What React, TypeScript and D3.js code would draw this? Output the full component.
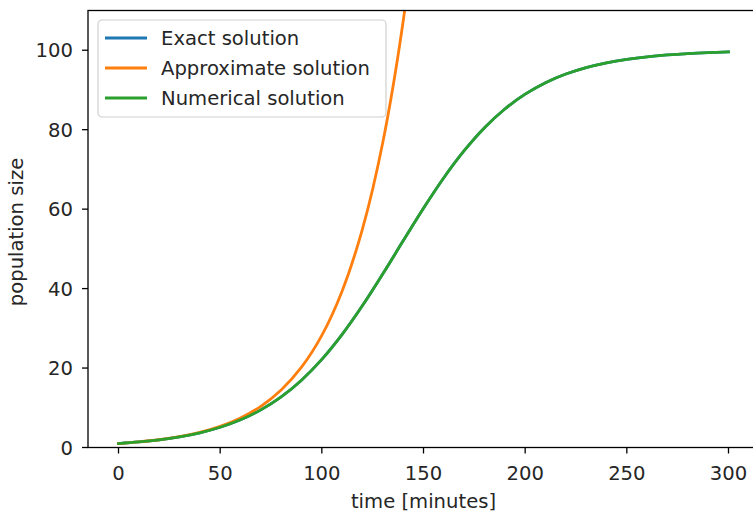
import React, { useMemo } from 'react';
import * as d3 from 'd3';

// time points (minutes)
const times = [0, 10, 20, 30, 40, 50, 60, 70, 80, 90, 100, 110, 120, 130, 140, 150,
  160, 170, 180, 190, 200, 210, 220, 230, 240, 250, 260, 270, 280, 290, 300];

// exact and numerical overlap
const exactValues = [1.0, 1.39, 1.93, 2.68, 3.7, 5.09, 6.97, 9.47, 12.75, 16.95, 22.18, 28.48, 35.73, 43.71, 52.02, 60.23,
  67.9, 74.7, 80.49, 85.21, 88.94, 91.83, 94.01, 95.64, 96.84, 97.71, 98.35, 98.81, 99.15, 99.39, 99.56];
const numericalValues = [1.0, 1.39, 1.93, 2.68, 3.7, 5.09, 6.97, 9.47, 12.75, 16.95, 22.18, 28.48, 35.73, 43.71, 52.02, 60.23,
  67.9, 74.7, 80.49, 85.21, 88.94, 91.83, 94.01, 95.64, 96.84, 97.71, 98.35, 98.81, 99.15, 99.39, 99.56];
// approximate solution leaves the axes around t=141
const approxTimes = [0, 10, 20, 30, 40, 50, 60, 70, 80, 90, 100, 110, 120, 130, 140, 150];
const approxValues = [1.0, 1.4, 1.95, 2.72, 3.8, 5.31, 7.42, 10.36, 14.47, 20.21, 28.22, 39.41, 55.04, 76.86, 107.3, 149.9];

const xTicks = [0, 50, 100, 150, 200, 250, 300];
const yTicks = [0, 20, 40, 60, 80, 100];

const series = [
  { name: 'Exact solution', color: '#1f77b4' },
  { name: 'Approximate solution', color: '#ff7f0e' },
  { name: 'Numerical solution', color: '#2ca02c' },
];

const W = 753;
const H = 516;
const font = '"DejaVu Sans", sans-serif';
const fs = 19.6;
const textColor = '#262626';

const App = () => {
  const left = 88;
  const top = 10.5;
  const right = 759;
  const bottom = 447.5;

  const { x, y, exactPath, approxPath, numPath } = useMemo(() => {
    const x = d3.scaleLinear().domain([-15, 315]).range([left, right]);
    const y = d3.scaleLinear().domain([0, 110]).range([bottom, top]);
    const line = d3.line<[number, number]>()
      .x(d => x(d[0]))
      .y(d => y(d[1]))
      .curve(d3.curveCatmullRom);
    return {
      x,
      y,
      exactPath: line(times.map((t, i) => [t, exactValues[i]])),
      approxPath: line(approxTimes.map((t, i) => [t, approxValues[i]])),
      numPath: line(times.map((t, i) => [t, numericalValues[i]])),
    };
  }, []);

  return (
    <svg
      width={W}
      height={H}
      style={{ position: 'absolute', left: 0, top: 0, background: '#fff', fontFamily: font }}
    >
      <defs>
        <clipPath id="plot">
          <rect x={left} y={top} width={right - left} height={bottom - top} />
        </clipPath>
      </defs>

      {/* lines */}
      <g clipPath="url(#plot)" fill="none" strokeWidth={2.8} strokeLinejoin="round" strokeLinecap="square">
        <path d={exactPath ?? ''} stroke={series[0].color} />
        <path d={approxPath ?? ''} stroke={series[1].color} />
        <path d={numPath ?? ''} stroke={series[2].color} />
      </g>

      {/* spines */}
      <rect x={left} y={top} width={right - left} height={bottom - top} fill="none" stroke="#000" strokeWidth={1.3} />

      {/* x ticks */}
      {xTicks.map(t => (
        <g key={`x-${t}`} transform={`translate(${x(t)}, ${bottom})`}>
          <line y1={0} y2={6} stroke="#000" strokeWidth={1.3} />
          <text y={32.5} textAnchor="middle" fontSize={fs} fill={textColor}>{t}</text>
        </g>
      ))}

      {/* y ticks */}
      {yTicks.map(t => (
        <g key={`y-${t}`} transform={`translate(${left}, ${y(t)})`}>
          <line x1={0} x2={-6} stroke="#000" strokeWidth={1.3} />
          <text x={-15} y={7} textAnchor="end" fontSize={fs} fill={textColor}>{t}</text>
        </g>
      ))}

      {/* axis labels */}
      <text x={x(150)} y={508} textAnchor="middle" fontSize={fs} fill={textColor}>
        time [minutes]
      </text>
      <text
        transform={`translate(23, ${(top + bottom) / 2 + 3}) rotate(-90)`}
        textAnchor="middle"
        fontSize={fs}
        fill={textColor}
      >
        population size
      </text>

      {/* legend */}
      <g transform="translate(98, 20)">
        <rect x={0} y={0} width={288} height={97} rx={4} fill="#fff" fillOpacity={0.8} stroke="#d0d0d0" strokeWidth={1.2} />
        {series.map((s, i) => (
          <g key={s.name} transform={`translate(0, ${18 + i * 30})`}>
            <line x1={7} x2={49} y1={0} y2={0} stroke={s.color} strokeWidth={2.8} />
            <text x={63} y={7} fontSize={fs} fill={textColor}>{s.name}</text>
          </g>
        ))}
      </g>
    </svg>
  );
};

export default App;
